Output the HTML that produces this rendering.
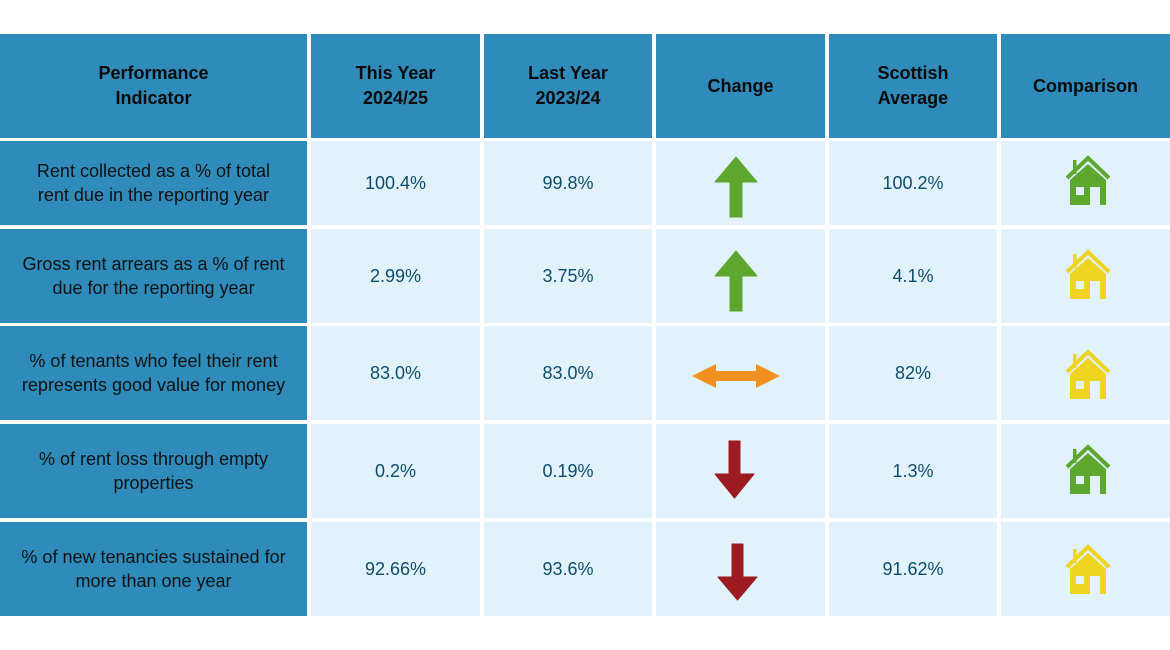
<!DOCTYPE html>
<html><head><style>
body{margin:0;width:1170px;height:650px;background:#fff;position:relative;font-family:"Liberation Sans",sans-serif;overflow:hidden}
.c{position:absolute;display:flex;align-items:center;justify-content:center;text-align:center;box-sizing:border-box}
.h{background:#2e8bba;color:#0a0a0a;font-weight:bold;font-size:18px;line-height:25px}
.l{background:#2e8bba;color:#111;font-size:18px;line-height:24px;padding:0 14px}
.d{background:#e1f2fb;color:#0d4d6b;font-size:18px}
svg{position:absolute}
</style></head><body>
<div class="c h" style="left:0;top:34px;width:307px;height:104px">Performance<br>Indicator</div>
<div class="c h" style="left:311px;top:34px;width:169px;height:104px">This Year<br>2024/25</div>
<div class="c h" style="left:484px;top:34px;width:168px;height:104px">Last Year<br>2023/24</div>
<div class="c h" style="left:656px;top:34px;width:169px;height:104px">Change</div>
<div class="c h" style="left:829px;top:34px;width:168px;height:104px">Scottish<br>Average</div>
<div class="c h" style="left:1001px;top:34px;width:169px;height:104px">Comparison</div>

<div class="c l" style="left:0;top:141px;width:307px;height:84px">Rent collected as a % of total<br>rent due in the reporting year</div>
<div class="c d" style="left:311px;top:141px;width:169px;height:84px">100.4%</div>
<div class="c d" style="left:484px;top:141px;width:168px;height:84px">99.8%</div>
<div class="c d" style="left:656px;top:141px;width:169px;height:84px"></div>
<div class="c d" style="left:829px;top:141px;width:168px;height:84px">100.2%</div>
<div class="c d" style="left:1001px;top:141px;width:169px;height:84px"></div>

<div class="c l" style="left:0;top:229px;width:307px;height:94px">Gross rent arrears as a % of rent due for the reporting year</div>
<div class="c d" style="left:311px;top:229px;width:169px;height:94px">2.99%</div>
<div class="c d" style="left:484px;top:229px;width:168px;height:94px">3.75%</div>
<div class="c d" style="left:656px;top:229px;width:169px;height:94px"></div>
<div class="c d" style="left:829px;top:229px;width:168px;height:94px">4.1%</div>
<div class="c d" style="left:1001px;top:229px;width:169px;height:94px"></div>

<div class="c l" style="left:0;top:326px;width:307px;height:94px">% of tenants who feel their rent represents good value for money</div>
<div class="c d" style="left:311px;top:326px;width:169px;height:94px">83.0%</div>
<div class="c d" style="left:484px;top:326px;width:168px;height:94px">83.0%</div>
<div class="c d" style="left:656px;top:326px;width:169px;height:94px"></div>
<div class="c d" style="left:829px;top:326px;width:168px;height:94px">82%</div>
<div class="c d" style="left:1001px;top:326px;width:169px;height:94px"></div>

<div class="c l" style="left:0;top:424px;width:307px;height:94px">% of rent loss through empty properties</div>
<div class="c d" style="left:311px;top:424px;width:169px;height:94px">0.2%</div>
<div class="c d" style="left:484px;top:424px;width:168px;height:94px">0.19%</div>
<div class="c d" style="left:656px;top:424px;width:169px;height:94px"></div>
<div class="c d" style="left:829px;top:424px;width:168px;height:94px">1.3%</div>
<div class="c d" style="left:1001px;top:424px;width:169px;height:94px"></div>

<div class="c l" style="left:0;top:522px;width:307px;height:94px">% of new tenancies sustained for more than one year</div>
<div class="c d" style="left:311px;top:522px;width:169px;height:94px">92.66%</div>
<div class="c d" style="left:484px;top:522px;width:168px;height:94px">93.6%</div>
<div class="c d" style="left:656px;top:522px;width:169px;height:94px"></div>
<div class="c d" style="left:829px;top:522px;width:168px;height:94px">91.62%</div>
<div class="c d" style="left:1001px;top:522px;width:169px;height:94px"></div>

<svg width="1170" height="650" style="left:0;top:0">
<defs>
<g id="house">
<polyline points="2,22 23,2 44,22" fill="none" stroke="currentColor" stroke-width="4"/>
<rect x="8" y="4" width="3.5" height="14" fill="currentColor"/>
<polygon points="5,24 23,8 41,24 41,49 5,49" fill="currentColor"/>
<rect x="11" y="31" width="8" height="8" fill="#e1f2fb"/>
<rect x="25" y="31" width="10" height="18" fill="#e1f2fb"/>
</g>
</defs>
<g fill="#5ea72e">
<path d="M736,157 L757,182 L742,182 L742,217 L730,217 L730,182 L715,182 Z" stroke="#5ea72e" stroke-width="1" stroke-linejoin="round"/>
<path d="M736,251 L757,276 L742,276 L742,311 L730,311 L730,276 L715,276 Z" stroke="#5ea72e" stroke-width="1" stroke-linejoin="round"/>
</g>
<path d="M692,376 L716,364 L716,371 L756,371 L756,364 L780,376 L756,388 L756,381 L716,381 L716,388 Z" fill="#f0901e"/>
<g fill="#9b1b20" stroke="#9b1b20" stroke-width="1" stroke-linejoin="round">
<path d="M734.5,498 L715,474 L729,474 L729,441 L740,441 L740,474 L754,474 Z"/>
<path d="M737.5,600 L718,577 L732,577 L732,544 L743,544 L743,577 L757,577 Z"/>
</g>
<use href="#house" x="1065" y="156" style="color:#5ea72e"/>
<use href="#house" x="1065" y="250" style="color:#efd422"/>
<use href="#house" x="1065" y="350" style="color:#efd422"/>
<use href="#house" x="1065" y="445" style="color:#5ea72e"/>
<use href="#house" x="1065" y="545" style="color:#efd422"/>
</svg>
</body></html>
